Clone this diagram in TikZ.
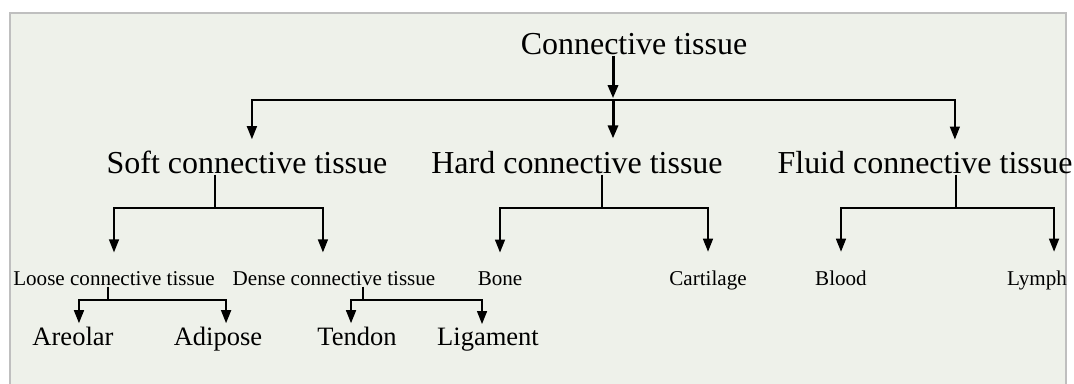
\documentclass[tikz,border=0pt]{standalone}
\usepackage{fontspec}
\setmainfont{Liberation Serif}
\usetikzlibrary{arrows.meta, calc, positioning}
\definecolor{panelgreen}{HTML}{EEF1EA}
\tikzset{
  bigtext/.style={font=\fontsize{18.2pt}{20pt}\selectfont, inner sep=0pt, anchor=base},
  smalltext/.style={font=\fontsize{12pt}{14pt}\selectfont, inner sep=0pt, anchor=base},
  leaftext/.style={font=\fontsize{15.1pt}{17pt}\selectfont, inner sep=0pt, anchor=base},
  rail/.style={line width=0.85pt},
  heavyrail/.style={line width=1.7pt, -{Triangle[length=0.26cm, width=0.2cm]}},
  drop/.style={rail, -{Triangle[length=0.26cm, width=0.2cm]}, shorten >=#1}
}

\begin{document}
\begin{tikzpicture}[x=0.02cm, y=-0.02cm]
  \useasboundingbox (0,0) rectangle (1074,384);
  % panel behind the tree
  \fill[panelgreen] (10,13) rectangle (1066,384);
  \draw[black!25, line width=1pt] (10,384) |- (1066,13) -- (1066,384);

  \node[bigtext] (conn) at (634,55) {Connective tissue};
  \node[bigtext] (soft) at (247,174) {Soft connective tissue};
  \node[bigtext] (hard) at (577,174) {Hard connective tissue};
  \node[bigtext] (fluid) at (925,174) {Fluid connective tissue};

  \node[smalltext] (loose) at (114,286) {Loose connective tissue};
  \node[smalltext] (dense) at (334,286) {Dense connective tissue};
  \node[smalltext] (bone) at (500,286) {Bone};
  \node[smalltext] (cart) at (708,286) {Cartilage};
  \node[smalltext] (blood) at (841,286) {Blood};
  \node[smalltext] (lymph) at (1037,286) {Lymph};

  \node[leaftext] (areolar) at (73,346) {Areolar};
  \node[leaftext] (adipose) at (218,346) {Adipose};
  \node[leaftext] (tendon) at (357,346) {Tendon};
  \node[leaftext] (ligament) at (488,346) {Ligament};

  % top split
  \coordinate (hub) at (613,100);
  \draw[heavyrail, shorten >=1pt] (conn.south -| hub) -- (hub);
  \draw[heavyrail, shorten >=7.4pt] (hub) -- (hard.north -| hub);
  \draw[drop=6.8pt] (hub) -| ([xshift=2.8pt]soft.north);
  \draw[drop=6.8pt] (hub) -| ([xshift=17pt]fluid.north);

  % second level
  \coordinate (softj) at (215,208);
  \coordinate (hardj) at (602,208);
  \coordinate (fluidj) at (956,208);
  \draw[rail] (soft.south -| softj) -- (softj);
  \draw[rail] (hard.south -| hardj) -- (hardj);
  \draw[rail] (fluid.south -| fluidj) -- (fluidj);
  \draw[drop=11pt] (softj) -| (loose.north);
  \draw[drop=11pt] (softj) -| ([xshift=-6.3pt]dense.north);
  \draw[drop=11pt] (hardj) -| (bone.north);
  \draw[drop=11pt] (hardj) -| (cart.north);
  \draw[drop=11pt] (fluidj) -| (blood.north);
  \draw[drop=11pt] (fluidj) -| ([xshift=9.7pt]lymph.north);

  % third level
  \coordinate (loosej) at (108,300);
  \coordinate (densej) at (363,300);
  \draw[rail] (loose.south -| loosej) -- (loosej);
  \draw[rail] (dense.south -| densej) -- (densej);
  \draw[drop=2.3pt] (loosej) -| ([xshift=3.4pt]areolar.north);
  \draw[drop=2.3pt] (loosej) -| ([xshift=4.6pt]adipose.north);
  \draw[drop=2.3pt] (densej) -| ([xshift=-3.4pt]tendon.north);
  \draw[drop=2.3pt] (densej) -| ([xshift=-3.4pt]ligament.north);
\end{tikzpicture}
\end{document}
